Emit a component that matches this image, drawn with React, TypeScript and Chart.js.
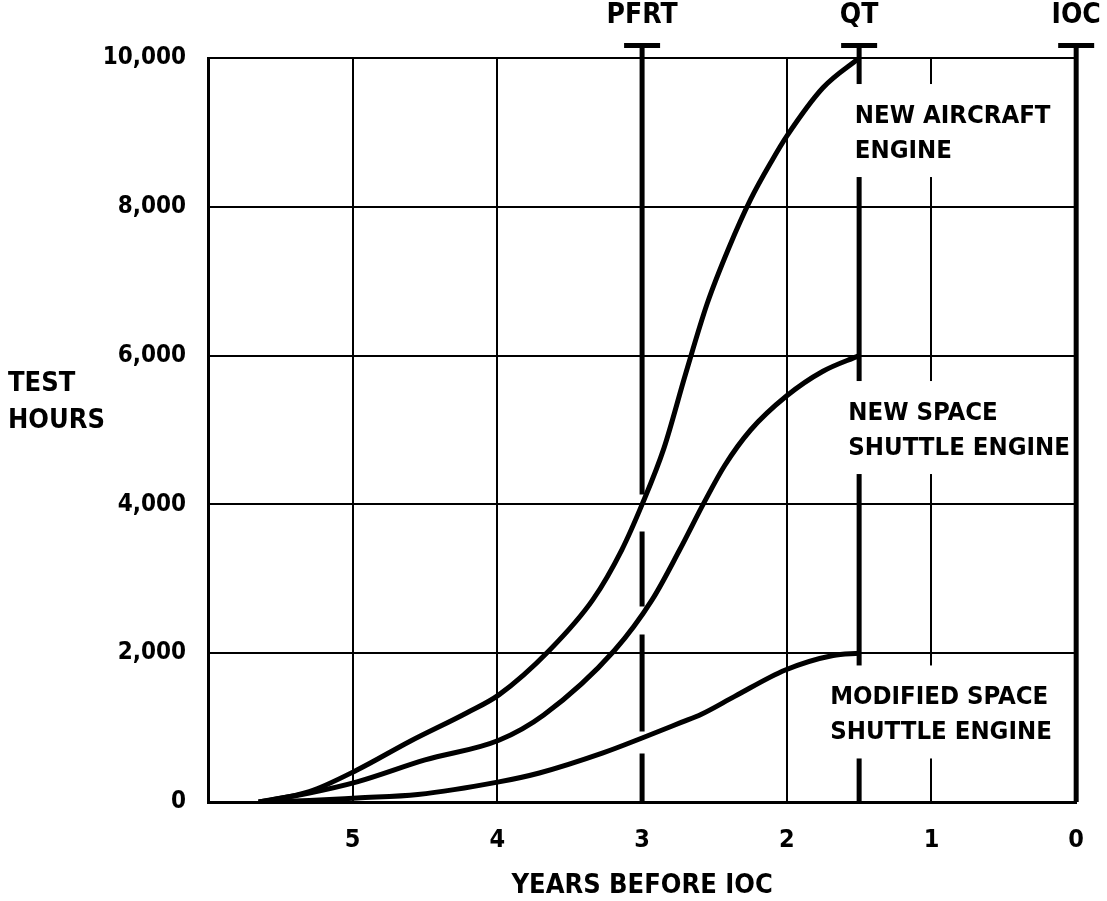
import React, { useEffect, useRef } from "react";
import { Chart, registerables } from "chart.js";

Chart.register(...registerables);

// ---- data ----
const xTicks = [5, 4, 3, 2, 1, 0];
const yTickStep = 2000;
const yMax = 10000;
const xMax = 6;

const aircraftYears = [5.65, 5.3, 4.97, 4.6, 4.21, 3.99, 3.64, 3.34, 3.14, 3.0, 2.85, 2.7, 2.55, 2.4, 2.25, 2.1, 2.0, 1.75, 1.5];
const aircraftHours = [0, 140, 430, 820, 1200, 1440, 2040, 2720, 3390, 4000, 4750, 5750, 6700, 7450, 8100, 8630, 8950, 9600, 10000];

const spaceYears = [5.65, 5.3, 4.97, 4.5, 3.99, 3.68, 3.19, 2.93, 2.74, 2.57, 2.43, 2.25, 2.0, 1.75, 1.5];
const spaceHours = [0, 120, 270, 565, 830, 1170, 2040, 2720, 3390, 4030, 4520, 5000, 5460, 5790, 6000];

const modifiedYears = [5.6, 5.3, 4.97, 4.55, 3.99, 3.71, 3.27, 3.0, 2.73, 2.59, 2.36, 2.01, 1.68, 1.5];
const modifiedHours = [0, 20, 54, 100, 270, 390, 660, 860, 1070, 1180, 1420, 1775, 1970, 2000];

const milestoneNames = ["PFRT", "QT", "IOC"];
const milestoneYears = [3, 1.5, 0];

const curveLabels = [
  ["NEW AIRCRAFT", "ENGINE"],
  ["NEW SPACE", "SHUTTLE ENGINE"],
  ["MODIFIED SPACE", "SHUTTLE ENGINE"],
];
const curveLabelYears = [1.53, 1.575, 1.7];
const curveLabelHours = [9220, 5228, 1405];

const yTitle = ["TEST", "HOURS"];
const xTitle = "YEARS BEFORE IOC";

// ---- styles ----
const FONT = "'DejaVu Sans Condensed', 'Liberation Sans Narrow', 'DejaVu Sans', sans-serif";
const INK = "#000";
const pfrtDash = [449, 37, 75, 28, 97, 22, 60];

const toPoints = (xs: number[], ys: number[]) => xs.map((x, i) => ({ x, y: ys[i] }));

const overlay = {
  id: "overlay",
  beforeDatasetsDraw(chart: any) {
    const { ctx, chartArea } = chart;
    const xs = chart.scales.x;
    const ys = chart.scales.y;
    ctx.save();
    ctx.fillStyle = INK;
    ctx.strokeStyle = INK;
    // milestone lines with T caps and labels
    milestoneYears.forEach((yr, i) => {
      const px = xs.getPixelForValue(yr);
      const capY = chartArea.top - 12.5;
      ctx.lineWidth = 5;
      ctx.setLineDash(i === 0 ? pfrtDash : []);
      ctx.beginPath();
      ctx.moveTo(px, capY);
      ctx.lineTo(px, chartArea.bottom);
      ctx.stroke();
      ctx.setLineDash([]);
      ctx.fillRect(px - 18, capY - 2.5, 36, 5);
      ctx.font = `bold 28px ${FONT}`;
      ctx.textAlign = "center";
      ctx.textBaseline = "middle";
      ctx.fillText(milestoneNames[i], px, chartArea.top - 42);
    });
    // curve labels with white knock-out boxes
    ctx.font = `bold 25.5px ${FONT}`;
    curveLabels.forEach((lines, i) => {
      const lx = xs.getPixelForValue(curveLabelYears[i]);
      const ly = ys.getPixelForValue(curveLabelHours[i]);
      const w = Math.max(...lines.map((l) => ctx.measureText(l).width));
      const lineH = 35;
      const top = ly - 32;
      const bottom = ly + lineH * (lines.length - 1) + 26;
      const right = Math.min(lx + w + 12, xs.getPixelForValue(0) - 4);
      ctx.fillStyle = "#fff";
      ctx.fillRect(lx - 12, top, right - (lx - 12), bottom - top);
      ctx.fillStyle = INK;
      ctx.textAlign = "left";
      ctx.textBaseline = "middle";
      lines.forEach((l, j) => ctx.fillText(l, lx, ly + j * lineH));
    });
    // axis titles
    ctx.font = `bold 27px ${FONT}`;
    ctx.textAlign = "center";
    ctx.fillText(xTitle, (chartArea.left + chartArea.right) / 2, chartArea.bottom + 84);
    ctx.textAlign = "left";
    const ty = ys.getPixelForValue(5000);
    ctx.fillText(yTitle[0], 8, ty - 46);
    ctx.fillText(yTitle[1], 8, ty - 9);
    ctx.restore();
  },
};

export default function App() {
  const ref = useRef<HTMLCanvasElement>(null);
  useEffect(() => {
    if (!ref.current) return;
    const lineStyle = {
      borderColor: INK,
      borderWidth: 5,
      pointRadius: 0,
      fill: false,
      cubicInterpolationMode: "monotone" as const,
    };
    const chart = new Chart(ref.current, {
      type: "line",
      data: {
        datasets: [
          { label: "New aircraft engine", data: toPoints(aircraftYears, aircraftHours), ...lineStyle },
          { label: "New space shuttle engine", data: toPoints(spaceYears, spaceHours), ...lineStyle },
          { label: "Modified space shuttle engine", data: toPoints(modifiedYears, modifiedHours), ...lineStyle },
        ],
      },
      options: {
        animation: false,
        responsive: false,
        layout: { padding: { top: 58, right: 29, left: 0, bottom: 0 } },
        plugins: { legend: { display: false }, tooltip: { enabled: false } },
        scales: {
          x: {
            type: "linear",
            min: 0,
            max: xMax,
            reverse: true,
            afterBuildTicks: (s: any) => {
              s.ticks = xTicks.map((v) => ({ value: v }));
            },
            afterFit: (s: any) => {
              s.height = 99;
            },
            grid: {
              color: INK,
              lineWidth: (c: any) => (c.tick && (c.tick.value === 3 || c.tick.value === 0) ? 0 : 2),
              drawTicks: false,
            },
            border: { display: true, color: INK, width: 3 },
            ticks: {
              color: INK,
              padding: 23,
              font: { family: FONT, weight: "bold", size: 25 },
              callback: (v: any) => String(v),
            },
          },
          y: {
            type: "linear",
            min: 0,
            max: yMax,
            afterFit: (s: any) => {
              s.width = 208;
            },
            grid: { color: INK, lineWidth: 2, drawTicks: false },
            border: { display: true, color: INK, width: 3 },
            ticks: {
              stepSize: yTickStep,
              color: INK,
              padding: 22,
              font: { family: FONT, weight: "bold", size: 24 },
              callback: (v: any) => Number(v).toLocaleString("en-US"),
            },
          },
        },
      },
      plugins: [overlay],
    });
    return () => chart.destroy();
  }, []);
  return (
    <div style={{ position: "absolute", left: 0, top: 0, width: 1107, height: 901, background: "#fff" }}>
      <canvas ref={ref} width={1107} height={901} style={{ display: "block" }} />
    </div>
  );
}
